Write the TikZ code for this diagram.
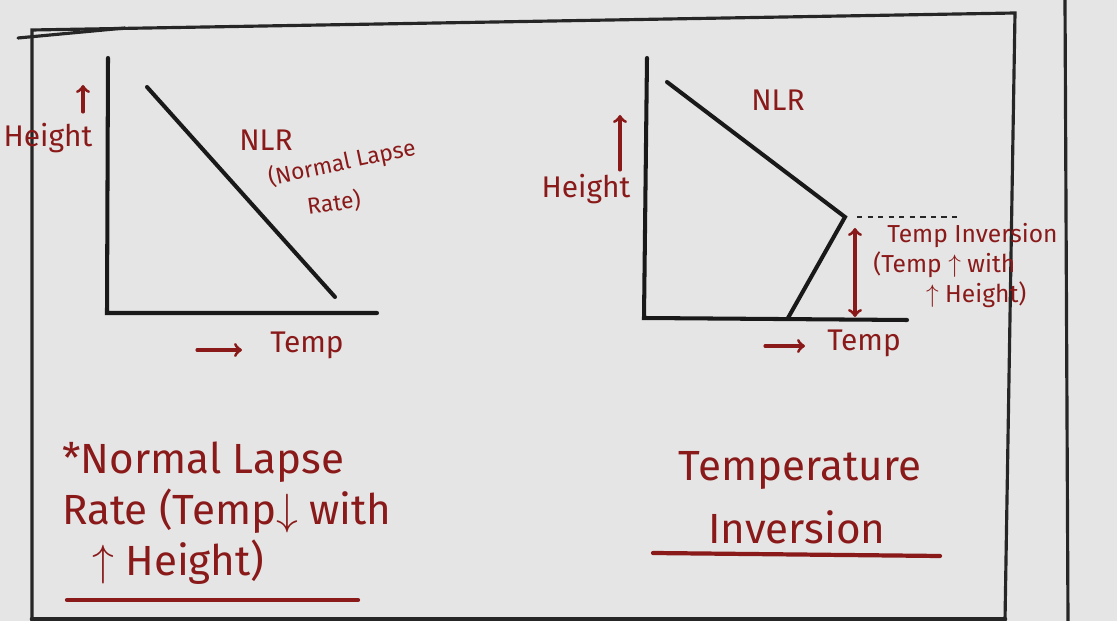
\documentclass[tikz,border=0pt]{standalone}
\usepackage{fontspec}
\setmainfont{Fira Sans}
\usepackage{xcolor}
\usetikzlibrary{positioning}
\definecolor{paper}{HTML}{E5E5E5}
\definecolor{ink}{HTML}{8A1A1A}

\begin{document}
\begin{tikzpicture}[x=0.02cm, y=-0.02cm,
    frame/.style={line width=1.8pt, black!85, line cap=round},
    axis/.style={line width=2.3pt, black!90, line cap=round},
    lbl/.style={ink, font=\fontsize{17}{19}\selectfont, inner sep=1pt},
    hnote/.style={ink, font=\fontsize{14}{17}\selectfont, inner sep=0pt, align=left, anchor=north west},
    big/.style={ink, font=\fontsize{24}{26}\selectfont, inner sep=0pt},
    inkline/.style={ink, line width=1.8pt, line cap=round}
]
    % Paper and page frame
    \fill[paper] (0,0) rectangle (1117,621);
    \useasboundingbox (0,0) rectangle (1117,621);
    \draw[frame] (32,621) -- (32,30) -- (1015,13) -- (1005,621);
    \draw[frame] (18,38) -- (125,28);
    \draw[frame] (1065,0) -- (1068,621);
    \draw[frame, line width=2.6pt] (32,619) -- (1005,619);

    % Normal lapse rate graph
    \coordinate (lTop) at (108,58);
    \coordinate (lO) at (107,313);
    \coordinate (lEnd) at (377,313);
    \draw[axis] (lTop) -- (lO) -- (lEnd);
    \coordinate (nlrA) at (147,87);
    \coordinate (nlrB) at (335,297);
    \draw[axis] (nlrA) -- (nlrB);

    \node[lbl] (lH) at (48,138) {Height};
    \coordinate (lHa) at (83,112);
    \draw[->, inkline] (lHa) -- ++(0,-27);
    \node[lbl] (lT) at (307,345) {Temp};
    \coordinate (lTa) at (197,350);
    \draw[->, inkline] (lTa) -- ++(45,0);

    \node[lbl, inner sep=0pt] (nlr) at (266,140) {NLR};
    \node[lbl, font=\fontsize{13}{15}\selectfont, inner sep=0pt, rotate=12] (nlrFull) at (342,163) {(Normal Lapse};
    \node[lbl, font=\fontsize{13}{15}\selectfont, inner sep=0pt, rotate=8] (nlrRate) at (334,203) {Rate)};

    % Temperature inversion graph
    \coordinate (rTop) at (647,58);
    \coordinate (rO) at (644,318);
    \coordinate (rEnd) at (907,320);
    \draw[axis] (rTop) -- (rO) -- (rEnd);
    \coordinate (invA) at (667,82);
    \coordinate (invK) at (845,217);
    \coordinate (invB) at (788,318);
    \draw[axis, line join=miter] (invA) -- (invK) -- (invB);
    \coordinate (dashA) at (857,217);
    \coordinate (dashB) at (960,217);
    \draw[black!85, line width=1.4pt, dashed] (dashA) -- (dashB);
    \coordinate (gapTop) at (855,228);
    \coordinate (gapBot) at (855,317);
    \draw[<->, inkline] (gapTop) -- (gapBot);

    \node[lbl] (rNlr) at (778,100) {NLR};
    \node[lbl] (rH) at (586,189) {Height};
    \coordinate (rHa) at (620,170);
    \draw[->, inkline] (rHa) -- ++(0,-55);
    \node[lbl] (rT) at (864,343) {Temp};
    \coordinate (rTa) at (765,346);
    \draw[->, inkline] (rTa) -- ++(40,0);

    \node[hnote] (inv) at (873,223)
        {\hspace*{8pt}Temp Inversion\\(Temp $\uparrow$ with\\\hspace*{30pt}$\uparrow$ Height)};

    % Captions
    \node[big, anchor=west] (cap1) at (62,462) {*Normal Lapse};
    \node[big, anchor=west] (cap2) at (62,511) {Rate (Temp$\downarrow$ with};
    \node[big, anchor=west] (cap3) at (92,562) {$\uparrow$ Height)};
    \coordinate (ul1a) at (67,600);
    \coordinate (ul1b) at (358,600);
    \draw[inkline, line width=2.4pt] (ul1a) -- (ul1b);

    \node[big] (cap4) at (800,470) {Temperature};
    \node[big] (cap5) at (797,527) {Inversion};
    \coordinate (ul2a) at (653,553);
    \coordinate (ul2b) at (940,556);
    \draw[inkline, line width=2.4pt] (ul2a) -- (ul2b);
\end{tikzpicture}
\end{document}
